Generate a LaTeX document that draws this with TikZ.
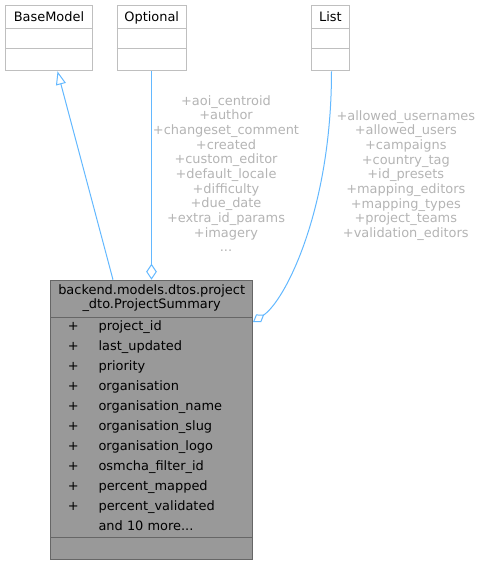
\documentclass[tikz,border=0pt]{standalone}
\usepackage{fontspec}
\setmainfont{DejaVu Sans}
\usetikzlibrary{arrows.meta,calc}
\definecolor{edgeblue}{HTML}{63B8FF}
\definecolor{extborder}{HTML}{BFBFBF}
\definecolor{labelgrey}{HTML}{B4B4B4}
\definecolor{mainfill}{HTML}{999999}
\definecolor{mainborder}{HTML}{666666}
\tikzset{
  umlfont/.style={font=\fontsize{9.7}{10.5}\selectfont},
  extbox/.style={draw=extborder, fill=white, line width=0.75pt, inner sep=0pt,
    anchor=north west, minimum height=49pt},
  extsep/.style={draw=extborder, line width=0.75pt},
  mainbox/.style={draw=mainborder, fill=mainfill, line width=0.75pt, inner sep=0pt,
    anchor=north west, minimum width=151.3pt, minimum height=209.5pt},
  mainsep/.style={draw=mainborder, line width=0.75pt},
  title/.style={umlfont, inner sep=0pt, anchor=base, text=black},
  member/.style={umlfont, inner sep=0pt, anchor=base west, text=black},
  vis/.style={umlfont, inner sep=0pt, anchor=base, text=black},
  edgelabel/.style={font=\fontsize{9.7}{10.99}\selectfont, text=labelgrey,
    align=center, inner sep=0pt, anchor=base},
  edge/.style={draw=edgeblue, line width=0.75pt},
}
\begin{document}
\begin{tikzpicture}[x=0.75pt, y=-0.75pt]
\useasboundingbox (0,0) rectangle (482,565);

% external classes
\node[extbox, minimum width=65.25pt] (base) at (5,5) {};
\node[extbox, minimum width=51.75pt] (opt) at (116.7,5) {};
\node[extbox, minimum width=28.3pt] (list) at (311,5) {};
\foreach \n/\t in {base/BaseModel, opt/Optional, list/List}{
  \draw[extsep] ($(\n.north west)+(0,23.3)$) -- ($(\n.north east)+(0,23.3)$);
  \draw[extsep] ($(\n.north west)+(0,43.7)$) -- ($(\n.north east)+(0,43.7)$);
  \node[title] at ($(\n.north)+(0,16.3)$) {\t};
}

% the summary class
\node[mainbox] (main) at (50.3,279.7) {};
\draw[mainsep] ($(main.north west)+(0,37.6)$) -- ($(main.north east)+(0,37.6)$);
\draw[mainsep] ($(main.north west)+(0,257.3)$) -- ($(main.north east)+(0,257.3)$);
\node[title] (hdr1) at ($(main.north)+(0,15.2)$) {backend.models.dtos.project};
\node[title] (hdr2) at ($(main.north)+(0,29.2)$) {\_dto.ProjectSummary};
\foreach \m [count=\i from 0] in {project\_id, last\_updated, priority, organisation,
    organisation\_name, organisation\_slug, organisation\_logo, osmcha\_filter\_id,
    percent\_mapped, percent\_validated}{
  \node[vis] at (73.3,330.2+20*\i) {+};
  \node[member] at (98.3,330.2+20*\i) {\m};
}
\node[member] (more) at (98.3,530.2) {and 10 more...};

% relations
\coordinate (inhfrom) at ($(main.north west)+(62.7,0)$);
\coordinate (inhto) at ($(base.south west)+(52.5,0)$);
\draw[edge, -{Triangle[open, length=10pt, width=7.5pt]}] (inhfrom) -- (inhto);

\coordinate (optto) at ($(main.north west)+(101.2,0)$);
\coordinate (optfrom) at ($(opt.south west)+(34.8,0)$);
\draw[edge, {Diamond[open, length=12pt, width=8pt]}-] (optto) -- (optfrom);

\coordinate (listto) at ($(main.north east)+(0,42.3)$);
\coordinate (listfrom) at ($(list.south west)+(20.5,0)$);
\draw[edge, {Diamond[open, length=10pt, width=7pt]}-] (listto)
  .. controls (285,301) and (331.5,210) .. (listfrom);

% member names carried by the relations (placed by the baseline of their last line)
\node[edgelabel] (optlbl) at (226,251.7) {+aoi\_centroid\\+author\\+changeset\_comment\\+created\\+custom\_editor\\+default\_locale\\+difficulty\\+due\_date\\+extra\_id\_params\\+imagery\\...};
\node[edgelabel] (listlbl) at (405.8,237.4) {+allowed\_usernames\\+allowed\_users\\+campaigns\\+country\_tag\\+id\_presets\\+mapping\_editors\\+mapping\_types\\+project\_teams\\+validation\_editors};
\end{tikzpicture}
\end{document}
